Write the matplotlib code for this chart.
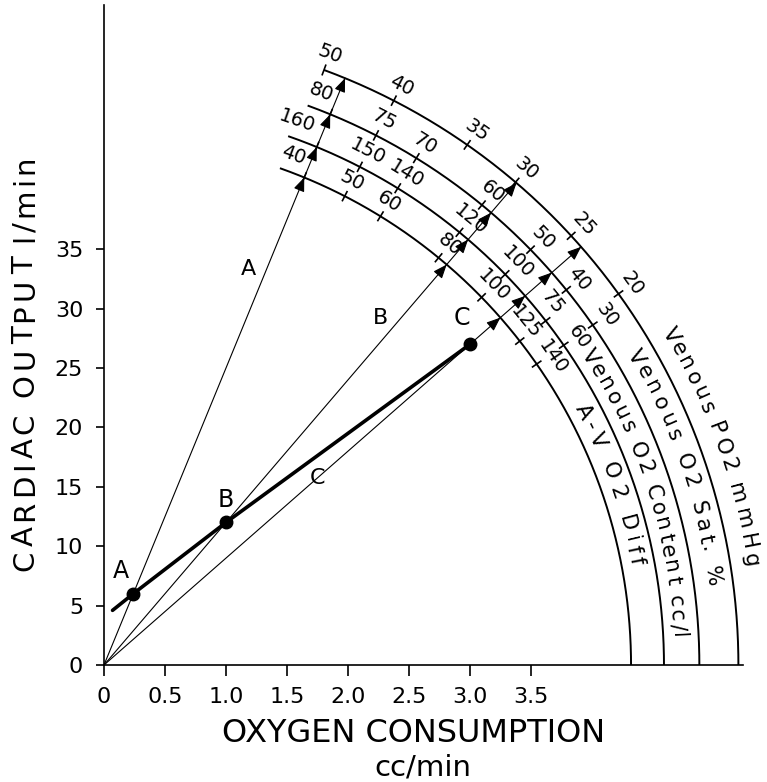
import numpy as np
import matplotlib
matplotlib.use("Agg")
import matplotlib.pyplot as plt
from matplotlib.textpath import TextPath
from matplotlib.font_manager import FontProperties

# ---------------- data ----------------
xtick_values = [0, 0.5, 1.0, 1.5, 2.0, 2.5, 3.0, 3.5]
xtick_labels = ["0", "0.5", "1.0", "1.5", "2.0", "2.5", "3.0", "3.5"]
ytick_values = [0, 5, 10, 15, 20, 25, 30, 35]

point_names = ["A", "B", "C"]
o2_consumption = [0.24, 1.0, 3.0]
cardiac_output = [6.0, 12.0, 27.0]

trend_x = [0.07, 0.24, 1.0, 3.0]
trend_y = [4.6, 6.0, 12.0, 27.0]

arterial_content = 200  # cc/l
avdiff_ticks = [40, 50, 60, 80, 100, 125, 140]
content_ticks = [160, 150, 140, 120, 100, 75, 60]
sat_ticks = [80, 75, 70, 60, 50, 40, 30]
sat_equiv_diff = [40, 50, 60, 80, 100, 120, 140]
po2_ticks = [50, 40, 35, 30, 25, 20]
po2_equiv_diff = [36, 50, 68, 83, 106, 135]

scale_titles = ["A-V O2 Diff", "Venous O2 Content cc/l", "Venous O2 Sat. %", "Venous PO2 mmHg"]
scale_x_intercepts = [4.32, 4.59, 4.88, 5.20]

# ---------------- figure ----------------
W, H = 767, 782
fig = plt.figure(figsize=(W / 100, H / 100), dpi=100)
ax = fig.add_axes([104 / W, 117 / H, 639 / W, 660 / H])
ax.set_xlim(0, 639 / 122.0)
ax.set_ylim(0, 660 / 11.88)
for s in ("top", "right"):
    ax.spines[s].set_visible(False)
for s in ("left", "bottom"):
    ax.spines[s].set_linewidth(1.2)
ax.set_xticks(xtick_values, xtick_labels)
ax.set_yticks(ytick_values)
ax.tick_params(axis="x", direction="out", length=8, width=1.2, labelsize=16, pad=8)
ax.tick_params(axis="y", direction="out", length=6, width=1.2, labelsize=16, pad=9)

p0 = ax.transData.transform((0, 0))
p1 = ax.transData.transform((1, 1))
SX = p1[0] - p0[0]
SY = p1[1] - p0[1]


def to_data(R, phi):
    a = np.radians(phi)
    return R * np.cos(a) / SX, R * np.sin(a) / SY


def diff_angle(D):
    return np.degrees(np.arctan2(1000.0 / D * SY, SX))


def advance(s, fp):
    if not s:
        return 0.0
    return TextPath((0, 0), s + "x", prop=fp).get_extents().x1 - \
        TextPath((0, 0), "x", prop=fp).get_extents().x1


def arc_text(s, R, a0, a1, fs):
    fp = FontProperties(family="DejaVu Sans", size=fs)
    total = advance(s, fp)
    for i, ch in enumerate(s):
        if ch == " ":
            continue
        c = (advance(s[:i], fp) + advance(s[:i + 1], fp)) / 2 / total
        phi = a0 + (a1 - a0) * c
        x, y = to_data(R, phi)
        ax.text(x, y, ch, rotation=phi - 90, rotation_mode="anchor",
                ha="center", va="baseline", fontsize=fs, clip_on=False)


# scales: (radius px, labels, equivalent diffs, arc start, title span, title baseline offset)
content_equiv = [arterial_content - c for c in content_ticks]
scales = [
    (scale_x_intercepts[0] * SX, avdiff_ticks, avdiff_ticks, 70.5, (29.0, 10.5), 9),
    (scale_x_intercepts[1] * SX, content_ticks, content_equiv, 70.8, (33.3, 2.6), 9),
    (scale_x_intercepts[2] * SX, sat_ticks, sat_equiv_diff, 70.0, (31.0, 7.0), 13),
    (scale_x_intercepts[3] * SX, po2_ticks, po2_equiv_diff, diff_angle(po2_equiv_diff[0]), (31.0, 8.5), 15),
]
# small angular nudges (deg) for crowded tick labels
label_nudge = {(0, 125): 1.2, (0, 140): -0.4, (1, 75): 1.0, (1, 60): -0.2,
               (0, 40): 2.0, (1, 160): 2.8, (2, 80): 1.6}

for k, ((R, labels, equiv, start, span, toff), title) in enumerate(zip(scales, scale_titles)):
    phis = np.linspace(start, 0, 300)
    xs, ys = to_data(R, phis)
    ax.plot(xs, ys, color="black", lw=1.4, clip_on=False, solid_capstyle="butt")
    for lab, D in zip(labels, equiv):
        phi = diff_angle(D)
        xa, ya = to_data(R - 5, phi)
        xb, yb = to_data(R + 5, phi)
        ax.plot([xa, xb], [ya, yb], color="black", lw=1.2, clip_on=False)
        pl = phi + label_nudge.get((k, lab), 0.0)
        xl, yl = to_data(R + 17, pl)
        ax.text(xl, yl, str(lab), rotation=pl - 90, rotation_mode="anchor",
                ha="center", va="center", fontsize=14, clip_on=False)
    arc_text(title, R + toff, span[0], span[1], 15.5)

# rays with arrowheads
R_out = scales[-1][0]
for x, y in zip(o2_consumption, cardiac_output):
    phi = diff_angle(1000.0 * x / y)
    xe, ye = to_data(R_out, phi)
    ax.plot([0, xe], [0, ye], color="black", lw=0.8, clip_on=False)
    for sc in scales:
        R = sc[0]
        ax.annotate("", xy=to_data(R, phi), xytext=to_data(R - 12, phi),
                    arrowprops=dict(arrowstyle="-|>,head_length=0.6,head_width=0.24",
                                    color="black", lw=0.8, mutation_scale=14,
                                    shrinkA=0, shrinkB=0), annotation_clip=False)

# thick line through points
ax.plot(trend_x, trend_y, color="black", lw=2.6, solid_capstyle="round")
ax.plot(o2_consumption, cardiac_output, "o", color="black", ms=9)

# point labels
point_label_pos = [(0.14, 7.9), (1.0, 13.9), (2.93, 29.2)]
for name, (lx, ly) in zip(point_names, point_label_pos):
    ax.text(lx, ly, name, fontsize=17, ha="center", va="center")
# ray labels
ray_label_pos = [(1.18, 33.3), (2.27, 29.2), (1.75, 15.75)]
for name, (lx, ly) in zip(point_names, ray_label_pos):
    ax.text(lx, ly, name, fontsize=16, ha="center", va="center")

# axis titles
fig.text(414 / W, 1 - 733 / H, "OXYGEN CONSUMPTION", ha="center", va="center", fontsize=23)
fig.text(423 / W, 1 - 768 / H, "cc/min", ha="center", va="center", fontsize=21)

ylab = "CARDIAC OUTPUT l/min"
fp = FontProperties(family="DejaVu Sans", size=21)
total = advance(ylab, fp)
y_start, y_end = 573, 153
for i, ch in enumerate(ylab):
    if ch == " ":
        continue
    c = (advance(ylab[:i], fp) + advance(ylab[:i + 1], fp)) / 2 / total
    py = y_start + (y_end - y_start) * c
    fig.text(33 / W, 1 - py / H, ch, rotation=90, rotation_mode="anchor",
             ha="center", va="baseline", fontsize=21)

fig.savefig("out.png", dpi=100)
